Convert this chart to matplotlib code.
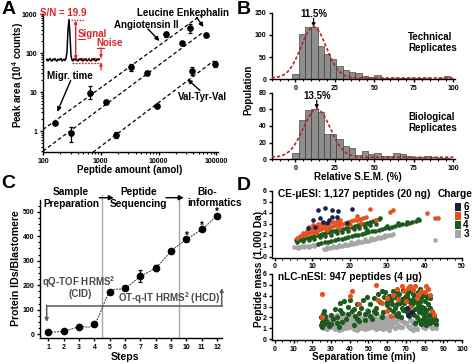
import numpy as np
import matplotlib
matplotlib.use('Agg')
import matplotlib.pyplot as plt
from matplotlib.ticker import MultipleLocator, FixedLocator, NullFormatter
from matplotlib.lines import Line2D
from matplotlib.patches import Rectangle

plt.rcParams['font.family'] = ['Liberation Sans', 'DejaVu Sans']
plt.rcParams['font.weight'] = 'bold'
plt.rcParams['mathtext.fontset'] = 'custom'
plt.rcParams['mathtext.rm'] = 'Liberation Sans:bold'
plt.rcParams['mathtext.default'] = 'rm'
plt.rcParams['axes.linewidth'] = 1.0

# ---------------- DATA ----------------
# Panel A: calibration (amol vs peak area, 10^4 counts)
leu_x = [164, 664, 3400, 13600, 34500]
leu_y = [1.64, 9.6, 43, 300, 438]
leu_lo = [0.15, 3.1, 8, 50, 110]
leu_hi = [0.15, 4.6, 9, 55, 130]
ang_x = [310, 1250, 6400, 25700, 66000]
ang_y = [0.9, 5.6, 31, 178, 290]
ang_lo = [0.37, 0.6, 3, 15, 35]
ang_hi = [0.4, 0.6, 3, 15, 35]
vyv_x = [1870, 9300, 38000, 95000]
vyv_y = [0.79, 4.5, 34.6, 52]
vyv_lo = [0.13, 0.3, 7, 9]
vyv_hi = [0.15, 0.3, 8, 9]
inset_trace = [0.10, 0.12, 0.08, 0.11, 0.13, 0.09, 0.08, 0.12, 0.10, 0.13,
               0.09, 0.08, 0.12, 0.10, 0.11, 0.13, 0.08, 0.10, 0.12, 0.09,
               0.13, 0.26, 0.70, 0.91, 0.60, 0.18, 0.10, 0.08, 0.12, 0.10,
               0.13, 0.09, 0.08, 0.12, 0.10, 0.13, 0.09, 0.08, 0.12, 0.10,
               0.11, 0.08, 0.10, 0.13, 0.09, 0.08, 0.12, 0.10, 0.13, 0.09,
               0.08, 0.12, 0.10, 0.11, 0.12]

# Panel B: histograms of relative S.E.M.
sem_bins = [0, 4, 8, 12, 16, 20, 24, 28, 32, 36, 40, 44, 48, 52, 56, 60, 64,
            68, 72, 76, 80, 84, 88, 92, 96]
tech_counts = [12, 101, 118, 117, 74, 57, 45, 30, 20, 16, 15, 7, 6, 9, 4, 3, 4,
               3, 4, 2, 2, 2, 1.5, 2, 7]
bio_counts = [7, 47, 59, 61, 57, 30, 30, 24, 16, 14, 5, 10, 6, 7, 4, 4, 8,
              6, 4, 3, 3, 4, 3, 2, 1.5]
tech_fit = dict(mu=11.5, sigma=8.0, amp=115, base=3)
bio_fit = dict(mu=13.5, sigma=8.5, amp=58, base=2.5)

# Panel C: protein IDs per step
steps = [1, 2, 3, 4, 5, 6, 7, 8, 9, 10, 11, 12]
prot_ids = [7, 12, 30, 41, 170, 188, 236, 271, 338, 387, 428, 484]
prot_err = [3, 3, 4, 8, 5, 5, 25, 12, 5, 7, 8, 8]
starred = [10, 11, 12]

# Panel D: peptide mass (1,000 Da) vs separation time (min), by charge
ce_x3 = [5.2, 5.9, 6.6, 7.3, 8.0, 8.7, 9.4, 10.1, 10.8, 11.5, 6.2, 7.7, 9.0, 10.4,
         13.0, 13.6, 14.2, 14.8, 15.4, 16.0, 16.6, 17.2, 17.8, 18.4, 19.0, 19.6,
         20.2, 20.8, 21.4, 22.0, 22.6, 23.2, 23.8, 24.4, 25.0, 25.6, 26.2, 26.8,
         27.4, 28.0, 28.6, 29.2, 29.8, 30.4, 31.0, 31.6,
         14.0, 15.6, 17.0, 18.7, 20.4, 22.2, 24.0, 25.8, 27.6, 29.4, 42.8]
ce_y3 = [0.85, 0.9, 0.92, 0.95, 0.98, 1.0, 1.02, 1.05, 1.1, 1.12, 0.8, 0.85, 0.9, 0.95,
         0.72, 0.75, 0.78, 0.82, 0.85, 0.88, 0.92, 0.96, 1.0, 1.03, 1.07, 1.1,
         1.14, 1.18, 1.22, 1.26, 1.3, 1.35, 1.4, 1.44, 1.48, 1.53, 1.58, 1.62,
         1.67, 1.72, 1.78, 1.83, 1.88, 1.94, 2.0, 2.05,
         0.9, 1.0, 1.1, 1.2, 1.32, 1.45, 1.58, 1.7, 1.83, 1.95, 1.55]
ce_x4 = [5.5, 6.3, 7.1, 7.9, 8.7, 9.5, 10.3, 11.1, 11.9, 12.7, 13.5, 14.3, 15.1,
         15.9, 16.7, 17.5, 18.3, 19.1, 19.9, 20.7, 21.5, 22.3, 23.1, 23.9, 24.7,
         25.5, 26.3, 27.1, 27.9,
         6.0, 7.5, 9.0, 10.5, 12.0, 13.5, 15.0, 16.5, 18.0, 19.5, 21.0, 22.5,
         24.0, 25.5, 27.0,
         11.5, 12.4, 13.3, 14.2, 15.1, 16.0, 16.9, 17.8, 18.7, 19.6, 20.5, 21.4,
         22.3, 23.2, 24.1, 25.0, 25.9, 26.8, 27.7, 28.6, 29.5, 30.4, 31.3, 32.2,
         33.1, 34.0, 34.9, 35.8, 36.7, 37.6, 38.5,
         28.0, 33.0, 35.2, 38.3, 30.0, 24.5]
ce_y4 = [1.5, 1.55, 1.62, 1.7, 1.75, 1.82, 1.9, 1.95, 2.02, 2.1, 2.15, 2.22, 2.3,
         2.35, 2.42, 2.5, 2.55, 2.62, 2.7, 2.75, 2.82, 2.9, 2.95, 3.02, 3.1,
         3.15, 3.22, 3.3, 3.4,
         1.35, 1.45, 1.55, 1.65, 1.78, 1.9, 2.0, 2.12, 2.25, 2.35, 2.48, 2.6,
         2.72, 2.85, 2.98,
         1.2, 1.25, 1.32, 1.38, 1.45, 1.52, 1.6, 1.66, 1.73, 1.8, 1.87, 1.95,
         2.0, 2.08, 2.15, 2.22, 2.3, 2.36, 2.44, 2.5, 2.58, 2.65, 2.72, 2.8,
         2.86, 2.94, 3.0, 3.08, 3.15, 3.22, 3.3,
         3.5, 3.1, 3.2, 3.4, 2.8, 2.4]
ce_x5 = [6.0, 6.8, 7.6, 8.4, 9.2, 10.0, 10.8, 11.6, 12.4, 13.2, 14.0, 14.8, 15.6,
         16.4, 17.2, 18.0, 18.8, 19.6, 20.4, 21.2, 22.0, 22.8, 23.6, 24.4,
         7.5, 8.5, 9.5, 10.5, 11.5, 12.5, 13.5, 14.5, 15.5, 16.5, 17.5,
         9.0, 10.2, 11.4, 12.6, 25.4, 31.6, 30.7, 40.6, 42.8, 43.7, 22.0, 27.0,
         8.0, 11.0, 14.0, 17.0, 20.0, 23.0]
ce_y5 = [1.75, 1.85, 1.95, 2.05, 2.15, 2.25, 2.3, 2.4, 2.5, 2.58, 2.65, 2.72, 2.8,
         2.88, 2.95, 3.02, 3.1, 3.18, 3.25, 3.3, 3.38, 3.45, 3.52, 3.6,
         2.2, 2.35, 2.5, 2.6, 2.75, 2.85, 2.95, 3.05, 3.15, 3.25, 3.35,
         2.7, 2.85, 3.0, 3.1, 4.33, 4.24, 4.1, 3.94, 3.55, 3.55, 3.7, 3.3,
         1.95, 2.15, 2.4, 2.6, 2.85, 3.1]
ce_x6 = [11.6, 13.4, 15.2, 16.9, 20.5, 10.2, 12.0, 12.9, 14.5, 15.2, 16.5, 19.2,
         10.7, 8.7, 13.8]
ce_y6 = [4.24, 4.4, 4.24, 4.15, 4.33, 3.33, 3.48, 3.18, 3.33, 3.6, 3.6, 3.1,
         2.7, 2.6, 3.05]

lc_x3 = [26, 28, 30, 32, 34, 36, 38, 40, 42, 44, 46, 48, 50, 52, 54, 56, 58, 60,
         64, 68, 72, 76, 80, 84,
         25, 27, 29, 31, 33, 35, 37, 39, 41, 43, 45, 47, 49, 51, 53, 55, 57, 59,
         61, 63, 66, 70, 74, 78, 82, 86,
         28, 30, 32, 34, 36, 38, 40, 42, 44, 46, 48, 50, 52, 54, 56, 58, 60, 62,
         65, 68, 72, 76, 80,
         33, 37, 41, 45, 49, 53, 57, 61, 36, 50,
         61, 49, 86, 34, 44, 74,
         25.5, 27.5, 29.5, 31.5, 33.5, 35.5, 37.5, 39.5, 41.5, 43.5, 45.5, 47.5,
         49.5, 51.5, 53.5, 55.5, 57.5, 59.5, 62, 67, 71, 75, 79, 83,
         26, 28.5, 31, 33.5, 36, 38.5, 41, 43.5, 46, 48.5, 51, 53.5, 56, 58.5,
         61, 64, 69, 73, 77, 81, 85,
         29, 32, 35, 38, 41, 44, 47, 50, 53, 56, 59, 63, 67]
lc_y3 = [1.0, 0.9, 1.1, 0.95, 1.05, 0.9, 1.0, 1.1, 0.95, 1.0, 1.05, 0.9, 1.0, 1.1,
         0.95, 1.0, 0.9, 1.05, 1.0, 1.1, 1.0, 0.95, 1.05, 1.0,
         1.4, 1.5, 1.3, 1.45, 1.35, 1.5, 1.4, 1.3, 1.45, 1.5, 1.35, 1.4, 1.5, 1.3,
         1.45, 1.4, 1.5, 1.35, 1.4, 1.45, 1.3, 1.5, 1.4, 1.35, 1.45, 1.3,
         1.8, 1.9, 1.75, 1.85, 1.95, 1.8, 1.9, 1.75, 1.85, 1.9, 1.8, 1.95, 1.75,
         1.85, 1.8, 1.9, 1.75, 1.85, 1.8, 1.7, 1.8, 1.75, 1.7,
         2.2, 2.3, 2.15, 2.25, 2.2, 2.3, 2.2, 2.1, 2.45, 2.4,
         0.8, 2.7, 1.0, 0.85, 0.8, 0.85,
         1.2, 1.15, 1.25, 1.2, 1.1, 1.25, 1.2, 1.15, 1.25, 1.2, 1.1, 1.2,
         1.25, 1.15, 1.2, 1.25, 1.1, 1.2, 1.2, 1.15, 1.25, 1.2, 1.15, 1.2,
         1.6, 1.65, 1.6, 1.7, 1.55, 1.65, 1.6, 1.7, 1.55, 1.65, 1.6, 1.7, 1.6,
         1.55, 1.65, 1.6, 1.6, 1.65, 1.55, 1.6, 1.65,
         2.0, 2.05, 2.0, 2.1, 2.0, 2.05, 1.95, 2.05, 2.0, 2.1, 2.0, 1.95, 2.0]
lc_x4 = [24.5, 25, 24.8, 25.5, 26, 25.2, 26.5,
         28, 30, 32, 33, 35, 36, 38, 39, 40, 41, 43, 44, 45, 46, 47, 48, 49, 50,
         51, 52, 53, 54, 55, 56, 57, 58, 58.5, 59, 60, 61, 29, 34, 42, 37, 31,
         62, 63, 64, 65, 66, 66.5, 67, 68, 68.5, 69, 70, 70.5, 71, 72, 72.5, 73,
         74, 74.5, 75, 76, 76.5, 77, 78, 78.5, 79, 80, 80.5, 81, 82, 82.5, 83,
         64.5, 67.5, 71.5, 69.5, 73.5, 75.5, 77.5, 79.5, 63,
         75, 77, 78, 79, 80, 81, 82, 83, 84, 85, 86, 84.5, 86, 76,
         61, 62.5, 64, 65.5, 67, 68.5, 70, 71.5, 73, 74.5, 76, 77.5, 79, 80.5,
         82, 83.5, 85, 62, 65, 68, 71, 74, 77, 80, 83, 60, 66, 72, 78, 84,
         27, 30, 33, 36, 39, 42, 45, 48, 51, 54, 57, 26, 35, 44, 53]
lc_y4 = [1.3, 1.6, 2.0, 2.3, 2.6, 1.1, 1.9,
         1.6, 2.2, 2.8, 1.5, 3.3, 2.4, 1.9, 3.0, 3.6, 2.6, 2.1, 3.2, 1.7, 2.9,
         3.6, 2.3, 3.9, 2.6, 3.2, 1.9, 3.8, 2.9, 4.2, 3.4, 4.4, 2.5, 3.9, 4.3,
         3.1, 4.0, 1.2, 1.1, 1.3, 3.5, 1.9,
         3.6, 2.6, 3.9, 3.2, 2.4, 4.2, 3.6, 2.9, 4.5, 3.3, 2.6, 4.1, 3.7, 3.0,
         4.4, 2.4, 3.5, 4.0, 2.8, 3.3, 4.3, 2.5, 3.8, 3.0, 2.3, 3.5, 4.0, 2.7,
         3.2, 2.2, 3.8,
         2.2, 2.0, 2.1, 3.9, 3.2, 3.7, 4.6, 2.9, 4.4,
         1.5, 1.8, 1.4, 1.9, 1.6, 1.3, 1.8, 1.5, 1.9, 1.6, 1.4, 2.3, 1.8, 2.0,
         2.8, 3.2, 2.9, 3.8, 3.3, 2.7, 3.9, 2.5, 3.6, 2.2, 2.9, 3.4, 4.1, 2.6,
         3.9, 2.3, 2.0, 4.0, 4.3, 3.7, 4.3, 4.2, 3.1, 2.1, 2.9, 3.4, 2.1, 3.4,
         2.7, 2.5,
         2.1, 1.4, 2.0, 1.6, 2.3, 2.8, 2.4, 1.8, 2.1, 2.4, 2.0, 1.4, 2.7, 1.9, 2.6]
lc_x5 = [25, 41, 54, 68, 72, 75, 81, 69, 74, 78, 80, 83, 45, 25, 60, 70, 72, 66,
         63, 85, 84, 60, 55, 65, 76, 62, 71, 77, 82, 40, 57]
lc_y5 = [4.2, 4.4, 5.0, 4.9, 4.9, 4.9, 4.9, 4.4, 4.5, 4.4, 4.3, 4.1, 3.2, 2.0,
         3.8, 3.5, 3.0, 3.7, 4.1, 2.2, 2.6, 2.6, 3.6, 4.6, 3.8, 2.1, 4.7, 4.2,
         4.6, 4.0, 3.3]
lc_x6 = [71, 73, 70.5]
lc_y6 = [2.2, 2.5, 2.9]

charges = ['6', '5', '4', '3']
charge_colors = {'6': '#1b1f4b', '5': '#e2531d', '4': '#1d5a1d', '3': '#a6a6a6'}

# ---------------- FIGURE ----------------
W, H = 473, 364
fig = plt.figure(figsize=(W / 100, H / 100), dpi=100)


def P(x, y):
    return (x / W, 1 - y / H)


def ax_px(l, t, r, b):
    return fig.add_axes([l / W, 1 - b / H, (r - l) / W, (b - t) / H])


def style(ax, fs=5):
    for s in ['top', 'right']:
        ax.spines[s].set_visible(False)
    ax.tick_params(which='major', direction='out', length=2.5, width=1,
                   labelsize=fs, pad=1.5)
    ax.tick_params(which='minor', direction='out', length=1.5, width=0.8)
    for lab in ax.get_xticklabels() + ax.get_yticklabels():
        lab.set_fontweight('bold')


def ftext(x, y, s, **kw):
    kw.setdefault('ha', 'center')
    kw.setdefault('va', 'center')
    kw.setdefault('fontweight', 'bold')
    return fig.text(*P(x, y), s, **kw)


def farrow(x0, y0, x1, y1, color='k', lw=1.0, style_='-|>', ms=6):
    fig.add_artist(matplotlib.patches.FancyArrowPatch(
        P(x0, y0), P(x1, y1), transform=fig.transFigure, arrowstyle=style_,
        color=color, lw=lw, mutation_scale=ms, shrinkA=0, shrinkB=0))


def fline(xs, ys, **kw):
    fig.add_artist(Line2D([x / W for x in xs], [1 - y / H for y in ys],
                          transform=fig.transFigure, **kw))


# ---- Panel A ----
axA = ax_px(43, 14, 218, 152)
axA.set_xscale('log')
axA.set_yscale('log')
axA.set_xlim(100, 1.07e5)
axA.set_ylim(0.29, 1000)
for xs, ys, lo, hi, xend in [(leu_x, leu_y, leu_lo, leu_hi, 6.5e4),
                             (ang_x, ang_y, ang_lo, ang_hi, 5.8e4),
                             (vyv_x, vyv_y, vyv_lo, vyv_hi, 9.0e4)]:
    k, b = np.polyfit(np.log10(xs), np.log10(ys), 1)
    lx = np.linspace(2, np.log10(xend), 50)
    axA.plot(10 ** lx, 10 ** (k * lx + b), color='k', lw=0.9,
             ls=(0, (3, 2)))
    axA.errorbar(xs, ys, yerr=[lo, hi], fmt='o', color='k', ms=3.8,
                 elinewidth=0.9, capsize=1.2, capthick=0.9)
axA.xaxis.set_major_locator(FixedLocator([100, 1000, 10000, 100000]))
axA.yaxis.set_major_locator(FixedLocator([1, 10, 100, 1000]))
axA.set_xticklabels(['100', '1000', '10000', '100000'])
axA.set_yticklabels(['1', '10', '100', '1000'])
axA.xaxis.set_minor_formatter(NullFormatter())
axA.yaxis.set_minor_formatter(NullFormatter())
style(axA)

# inset chromatogram
axI = ax_px(46, 15, 100, 65)
axI.plot(range(len(inset_trace)), inset_trace, color='k', lw=1.1)
axI.set_xlim(0, len(inset_trace) - 1)
axI.set_ylim(0, 1)
axI.axis('off')

red = '#d8262c'
ftext(63.5, 12.7, 'S/N = 19.9', color=red, fontsize=7)
fline([70.5, 84], [19.7, 19.7], color=red, lw=1, ls=(0, (1, 1)))
farrow(75.7, 59.5, 75.7, 20.5, color=red, lw=1, style_='<|-|>', ms=4)
ftext(78, 33.8, 'Signal', color=red, fontsize=7, ha='left')
fline([78, 84.5], [38.6, 38.6], color=red, lw=0.8)
ftext(96.7, 43.5, 'Noise', color=red, fontsize=7, ha='left')
fline([96.7, 103.5], [48.2, 48.2], color=red, lw=0.8)
farrow(101, 47.5, 101, 58.3, color=red, lw=0.9, ms=4)
farrow(101, 70, 101, 62.5, color=red, lw=0.9, ms=4)
fline([72, 101], [58.4, 58.4], color=red, lw=0.9, ls=(0, (1.5, 1)))
fline([72, 101], [62.6, 62.6], color=red, lw=0.9, ls=(0, (1.5, 1)))
ftext(70, 76, 'Migr. time', fontsize=7)
farrow(70.7, 80.5, 57.3, 111.7, ms=6)

ftext(183, 12.5, 'Leucine Enkephalin', fontsize=7)
farrow(196.7, 17.5, 203.5, 27, ms=6)
ftext(146.7, 24.5, 'Angiotensin II', fontsize=7)
farrow(148, 29, 159.5, 41, ms=6)
ftext(202, 96.7, 'Val-Tyr-Val', fontsize=7)
farrow(200, 90.5, 187.5, 79.3, ms=6)

ftext(18.5, 75, 'Peak area (10$^4$ counts)', rotation=90, fontsize=7)
ftext(130, 170, 'Peptide amount (amol)', fontsize=7)
ftext(1.5, 9, 'A', fontsize=14, ha='left')

# ---- Panel B ----
gx = np.linspace(-15, 100, 400)
for (t, b), counts, fit, yl, yt, lab, labtxt in [
        ((12.7, 79.3), tech_counts, tech_fit, 150, [0, 50, 100, 150], '11.5%',
         'Technical\nReplicates'),
        ((92.7, 159.3), bio_counts, bio_fit, 80, [0, 20, 40, 60, 80], '13.5%',
         'Biological\nReplicates')]:
    ax = ax_px(271.7, t, 455, b)
    ax.bar(sem_bins, counts, width=4, color='#8e8e8e', edgecolor='#2a2a2a',
           lw=0.4, zorder=2)
    gy = fit['base'] + fit['amp'] * np.exp(-(gx - fit['mu']) ** 2 /
                                           (2 * fit['sigma'] ** 2))
    ax.plot(gx, gy, color='#b3262b', lw=1.2, ls=(0, (2, 1.2)), zorder=3)
    ax.set_xlim(-15, 101)
    ax.set_ylim(0, yl)
    ax.set_xticks([0, 25, 50, 75, 100])
    ax.set_yticks(yt)
    ax.xaxis.set_minor_locator(MultipleLocator(5))
    style(ax)
    peak = fit['base'] + fit['amp']
    ax.annotate('', xy=(fit['mu'], peak), xytext=(fit['mu'], peak + yl * 0.13),
                arrowprops=dict(arrowstyle='-|>', color='k', lw=0.9,
                                mutation_scale=5, shrinkA=0, shrinkB=0))
    ax.text(fit['mu'], peak + yl * 0.2, lab, ha='center', va='center',
            fontsize=7, fontweight='bold', transform=ax.transData, clip_on=False)
    ax.text(0.745, 0.55, labtxt, transform=ax.transAxes, ha='left',
            va='center', fontsize=7, fontweight='bold', linespacing=1.15)

ftext(248.5, 90, 'Population', rotation=90, fontsize=7)
ftext(357.7, 176.5, 'Relative S.E.M. (%)', fontsize=7)
ftext(237, 9, 'B', fontsize=14, ha='left')


# ---- Panel C ----
def catmull(xs, ys, n=16):
    pts = np.column_stack([xs, ys]).astype(float)
    Q = np.vstack([2 * pts[0] - pts[1], pts, 2 * pts[-1] - pts[-2]])
    t = np.linspace(0, 1, n, endpoint=False)[:, None]
    out = []
    for i in range(1, len(Q) - 2):
        p0, p1, p2, p3 = Q[i - 1], Q[i], Q[i + 1], Q[i + 2]
        out.append(0.5 * (2 * p1 + (-p0 + p2) * t +
                          (2 * p0 - 5 * p1 + 4 * p2 - p3) * t ** 2 +
                          (-p0 + 3 * p1 - 3 * p2 + p3) * t ** 3))
    out.append(pts[-1][None, :])
    return np.vstack(out)


axC = ax_px(40, 200, 221.7, 338)
axC.set_xlim(0.46, 12.3)
axC.set_ylim(-16, 548)
for xv in [4.5, 9.5]:
    axC.plot([xv, xv], [-16, 568], color='#a8a8a8', lw=1, clip_on=False,
             zorder=1)
cur = catmull(steps, prot_ids)
axC.plot(cur[:, 0], cur[:, 1], color='#333333', lw=0.7, ls=(0, (2, 1)),
         zorder=2)
axC.errorbar(steps, prot_ids, yerr=prot_err, fmt='o', color='k', ms=4.5,
             elinewidth=0.9, capsize=1.5, capthick=0.9, zorder=3)
for s in starred:
    axC.text(s, prot_ids[s - 1] + 14, '*', ha='center', va='center',
             fontsize=7, fontweight='bold')
axC.set_xticks(steps)
axC.set_yticks([0, 100, 200, 300, 400, 500])
axC.yaxis.set_minor_locator(MultipleLocator(25))
style(axC)

ftext(70.3, 191.7, 'Sample', fontsize=7.3)
ftext(71, 204, 'Preparation', fontsize=7.3)
ftext(138.7, 191.7, 'Peptide', fontsize=7.3)
ftext(138.3, 204, 'Sequencing', fontsize=7.3)
ftext(206.7, 191.7, 'Bio-', fontsize=7.3)
ftext(214.3, 203.5, 'informatics', fontsize=7.3)
farrow(99.3, 197.7, 113.8, 197.7, ms=7)
farrow(166, 197.7, 183.8, 197.7, ms=7)

gcol = '#4a4a4a'
ftext(78.3, 282.3, 'qQ-TOF HRMS$^2$', fontsize=7, color=gcol)
ftext(80, 294.2, '(CID)', fontsize=7, color=gcol)
ftext(169, 298.5, 'OT-q-IT HRMS$^2$ (HCD)', fontsize=7, color=gcol)
fline([46.7, 221.7], [305.7, 305.7], color='#5a5a5a', lw=1.1)
farrow(46.7, 305.2, 46.7, 322, color='#5a5a5a', lw=1.1, ms=5)
farrow(221.7, 306.2, 221.7, 288, color='#5a5a5a', lw=1.1, ms=5)

ftext(15.8, 268.3, 'Protein IDs/Blastomere', rotation=90, fontsize=7.6)
ftext(125, 356.7, 'Steps', fontsize=7.6)
ftext(1.5, 184, 'C', fontsize=14, ha='left')

# ---- Panel D ----
axD1 = ax_px(272, 190.7, 462, 257.7)
axD2 = ax_px(272, 274, 462, 340)
groups_ce = {'3': (ce_x3, ce_y3), '4': (ce_x4, ce_y4), '5': (ce_x5, ce_y5),
             '6': (ce_x6, ce_y6)}
groups_lc = {'3': (lc_x3, lc_y3), '4': (lc_x4, lc_y4), '5': (lc_x5, lc_y5),
             '6': (lc_x6, lc_y6)}
for ax, groups, xmax, xmin, ssz in [(axD1, groups_ce, 50, -0.8, 11),
                                    (axD2, groups_lc, 100, -1.6, 14)]:
    for ch in ['3', '4', '5', '6']:
        gxs, gys = groups[ch]
        ax.scatter(gxs, gys, s=ssz, color=charge_colors[ch], lw=0,
                   zorder=3)
    ax.set_xlim(xmin, xmax)
    ax.set_ylim(-0.08, 6)
    ax.set_xticks(np.arange(0, xmax + 1, 10))
    ax.set_yticks(range(0, 7))
    ax.xaxis.set_minor_locator(MultipleLocator(xmax / 25))
    style(ax)

ftext(278, 194, 'CE-μESI: 1,127 peptides (20 ng)', fontsize=7.3, ha='left')
ftext(278, 277, 'nLC-nESI: 947 peptides (4 μg)', fontsize=7.3, ha='left')
ftext(455, 194, 'Charge', fontsize=7.3)
for i, ch in enumerate(charges):
    yc = 206.7 + i * 9.1
    fig.add_artist(Rectangle(P(455.3, yc + 3.8), 5.7 / W, 7.6 / H,
                             transform=fig.transFigure,
                             color=charge_colors[ch], lw=0))
    ftext(466, yc, ch, fontsize=7, ha='center')

ftext(258.5, 269, 'Peptide mass (1,000 Da)', rotation=90, fontsize=7.3)
ftext(364, 357, 'Separation time (min)', fontsize=7.3)
ftext(237, 185.5, 'D', fontsize=14, ha='left')

fig.savefig('out.png', dpi=100)
